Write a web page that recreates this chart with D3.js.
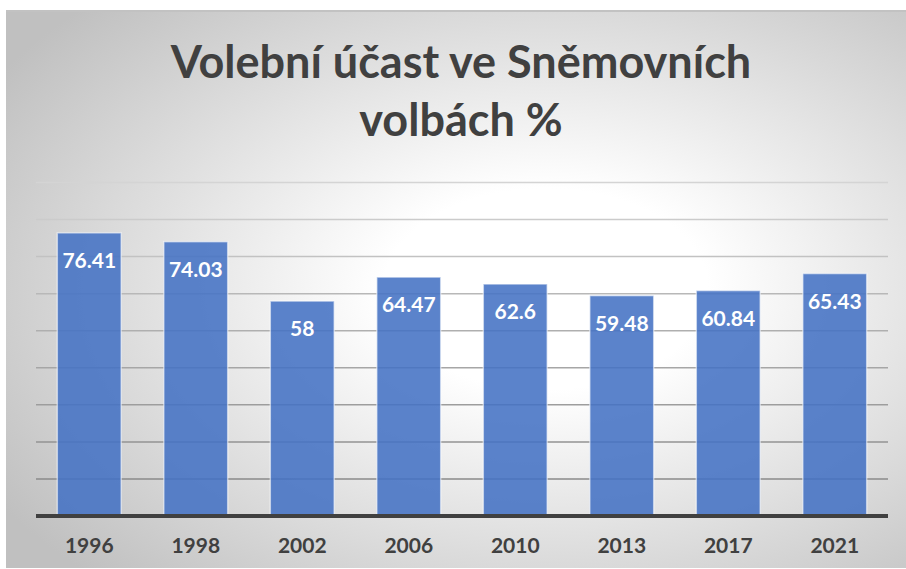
<!DOCTYPE html>
<html>
<head>
<meta charset="utf-8">
<script src="https://cdn.jsdelivr.net/npm/d3@7"></script>
<style>
  body { margin: 0; background: #fff; }
  svg text { font-family: Lato, "Open Sans", sans-serif; font-weight: bold; }
</style>
</head>
<body>
<div id="chart"></div>
<script>
var w = 906, h = 569;

var years = ["1996", "1998", "2002", "2006", "2010", "2013", "2017", "2021"];
var turnout = [76.41, 74.03, 58, 64.47, 62.6, 59.48, 60.84, 65.43];
var gridValues = [10, 20, 30, 40, 50, 60, 70, 80, 90];
var titleLines = ["Volební účast ve Sněmovních", "volbách %"];

var plotLeft = 36, plotRight = 888, plotTop = 182.5, plotBottom = 516;

var svg = d3.select("#chart")
  .append("svg")
  .attr("width", w)
  .attr("height", h);

// background gradient
var defs = svg.append("defs");
var grad = defs.append("radialGradient")
  .attr("id", "bg")
  .attr("cx", 0.6).attr("cy", 0.5).attr("r", 0.72);
grad.append("stop").attr("offset", 0).attr("stop-color", "#ffffff");
grad.append("stop").attr("offset", 0.25).attr("stop-color", "#ffffff");
grad.append("stop").attr("offset", 1).attr("stop-color", "#c0c0c0");

svg.append("rect")
  .attr("x", 6).attr("y", 10)
  .attr("width", w - 6).attr("height", h - 11)
  .attr("fill", "url(#bg)");

svg.append("line")
  .attr("x1", 6).attr("x2", w)
  .attr("y1", 11).attr("y2", 11)
  .attr("stroke", "#c2c2c2")
  .attr("stroke-width", 2);

// scales
var xScale = d3.scaleBand()
  .domain(years)
  .range([plotLeft, plotRight])
  .paddingInner(0.4)
  .paddingOuter(0.2);

var yScale = d3.scaleLinear()
  .domain([0, 90])
  .range([plotBottom, plotTop]);

var gridColor = d3.scaleLinear()
  .domain([10, 90])
  .range(["#8a8a8a", "#d4d4d4"]);

// gridlines
svg.append("g")
  .selectAll("line")
  .data(gridValues)
  .enter()
  .append("line")
  .attr("x1", plotLeft)
  .attr("x2", plotRight)
  .attr("y1", function(d) { return yScale(d); })
  .attr("y2", function(d) { return yScale(d); })
  .attr("stroke", function(d) { return gridColor(d); })
  .attr("stroke-width", 1.5);

// bars
svg.append("g")
  .selectAll("rect")
  .data(turnout)
  .enter()
  .append("rect")
  .attr("x", function(d, i) { return xScale(years[i]); })
  .attr("y", function(d) { return yScale(d); })
  .attr("width", xScale.bandwidth())
  .attr("height", function(d) { return plotBottom - yScale(d); })
  .attr("fill", "#4472c4")
  .attr("fill-opacity", 0.88)
  .attr("stroke", "rgba(255,255,255,0.55)")
  .attr("stroke-width", 1.5);

// value labels
svg.append("g")
  .selectAll("text")
  .data(turnout)
  .enter()
  .append("text")
  .attr("x", function(d, i) { return xScale(years[i]) + xScale.bandwidth() / 2; })
  .attr("y", function(d) { return yScale(d) + 35; })
  .attr("text-anchor", "middle")
  .attr("fill", "#ffffff")
  .attr("font-size", 21)
  .text(function(d) { return d; });

// x axis
var xAxis = d3.axisBottom(xScale).tickSize(0).tickPadding(22);
var gx = svg.append("g")
  .attr("transform", "translate(0," + plotBottom + ")")
  .call(xAxis);
gx.select(".domain").remove();
gx.selectAll("text")
  .attr("font-size", 21)
  .attr("font-family", "Lato, sans-serif")
  .attr("fill", "#404040");

svg.append("line")
  .attr("x1", plotLeft).attr("x2", plotRight)
  .attr("y1", plotBottom).attr("y2", plotBottom)
  .attr("stroke", "#404040")
  .attr("stroke-width", 4);

// title
svg.append("g")
  .selectAll("text")
  .data(titleLines)
  .enter()
  .append("text")
  .attr("x", 461)
  .attr("y", function(d, i) { return 78 + i * 58; })
  .attr("text-anchor", "middle")
  .attr("fill", "#404040")
  .attr("font-size", 45)
  .text(function(d) { return d; });
</script>
</body>
</html>
